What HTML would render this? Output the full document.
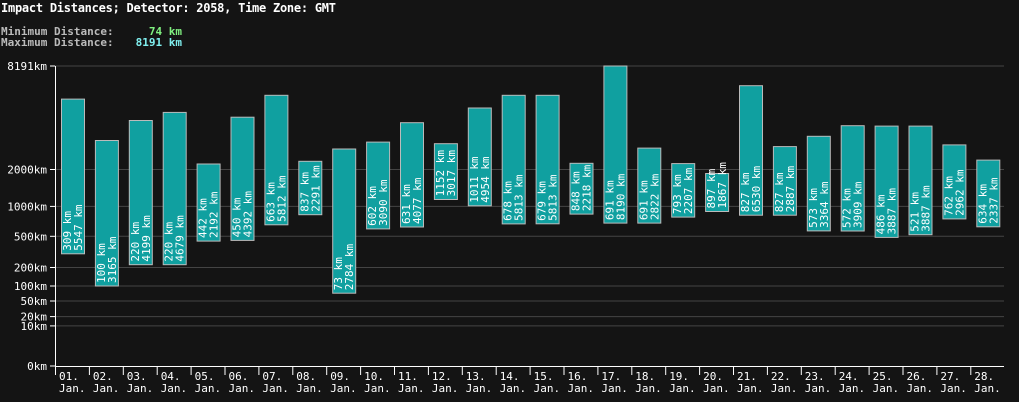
<!DOCTYPE html>
<html><head><meta charset="utf-8"><style>
html,body{margin:0;padding:0;background:#141414;}
svg{display:block;font-family:"DejaVu Sans Mono","Liberation Mono",monospace;}
</style></head><body>
<svg id="s" width="1019" height="402" xmlns="http://www.w3.org/2000/svg">
<rect width="1019" height="402" fill="#141414"/>
<text x="1" y="12" fill="#fff" font-size="12" font-weight="bold" textLength="335">Impact Distances; Detector: 2058, Time Zone: GMT</text>
<text x="1" y="35" fill="#bbb" font-size="11" font-weight="bold">Minimum Distance:</text>
<text x="182" y="35" fill="#80f080" font-size="11" font-weight="bold" text-anchor="end">74 km</text>
<text x="1" y="46" fill="#bbb" font-size="11" font-weight="bold">Maximum Distance:</text>
<text x="182" y="46" fill="#80f0f0" font-size="11" font-weight="bold" text-anchor="end">8191 km</text>
<g id="g"></g>
</svg>
<script>
var d=[[309,5547],[100,3165],[220,4199],[220,4679],[442,2192],[450,4392],[663,5812],[837,2291],[73,2784],[602,3090],[631,4077],[1152,3017],[1011,4954],[678,5813],[679,5813],[848,2218],[691,8190],[691,2822],[793,2207],[897,1867],[827,6530],[827,2887],[573,3364],[572,3909],[486,3887],[521,3887],[762,2962],[634,2337]];
function Y(v){return 366-300*Math.pow(v/8191,0.3);}
var h='';
[8191,2000,1000,500,200,100,50,20,10].forEach(function(t){var y=Y(t).toFixed(1);
h+='<line x1="55" x2="1004" y1="'+y+'" y2="'+y+'" stroke="#444"/>';
h+='<line x1="50" x2="55" y1="'+y+'" y2="'+y+'" stroke="#fff"/>';
h+='<text x="47" y="'+(+y+4)+'" fill="#fff" font-size="11" text-anchor="end">'+t+'km</text>';});
h+='<line x1="50" x2="55" y1="366" y2="366" stroke="#fff"/><text x="47" y="370" fill="#fff" font-size="11" text-anchor="end">0km</text>';
h+='<line x1="55.5" x2="55.5" y1="66" y2="366" stroke="#fff"/>';
h+='<line x1="55" x2="1004" y1="366.5" y2="366.5" stroke="#fff"/>';
var sp=33.9;
for(var i=0;i<28;i++){var x0=55+i*sp;
h+='<line x1="'+(x0+0.5)+'" x2="'+(x0+0.5)+'" y1="366" y2="375" stroke="#fff"/>';
var n=(i+1<10?'0':'')+(i+1)+'.';
h+='<text x="'+(x0+4)+'" y="380" fill="#fff" font-size="11">'+n+'</text>';
h+='<text x="'+(x0+4)+'" y="392" fill="#fff" font-size="11">Jan.</text>';
var bx=x0+6,t=Y(d[i][1]),b=Y(d[i][0]);
h+='<rect x="'+(bx+0.5)+'" y="'+t.toFixed(1)+'" width="23" height="'+(b-t).toFixed(1)+'" fill="#10a0a0" stroke="#bbb" stroke-width="1"/>';
var ty=b-3;
h+='<text transform="translate('+(bx+10)+','+ty.toFixed(1)+') rotate(-90)" fill="#fff" font-size="11">'+d[i][0]+' km</text>';
h+='<text transform="translate('+(bx+21)+','+ty.toFixed(1)+') rotate(-90)" fill="#fff" font-size="11">'+d[i][1]+' km</text>';
}
document.getElementById('g').innerHTML=h;
</script>
</body></html>
